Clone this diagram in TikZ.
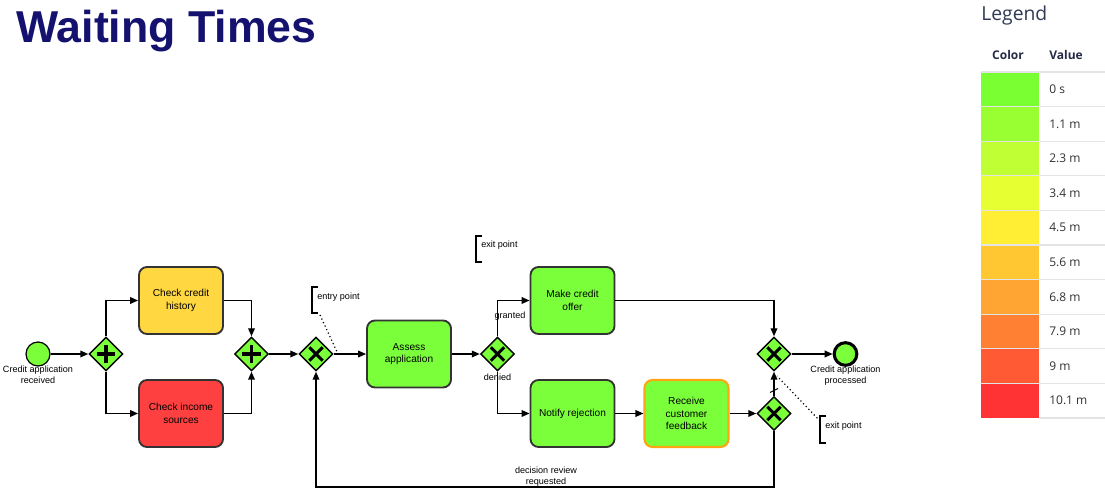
\documentclass[tikz,border=0pt]{standalone}
\usepackage{fontspec}
\setmainfont{Liberation Sans}
\newfontfamily\legendfont{Open Sans}
\usetikzlibrary{shapes.geometric,arrows.meta,calc}
\definecolor{tgreen}{RGB}{122,255,58}
\definecolor{tyellow}{RGB}{255,215,64}
\definecolor{tred}{RGB}{255,64,64}
\definecolor{torange}{RGB}{255,165,20}
\definecolor{titlenavy}{RGB}{20,18,110}
\definecolor{leggray}{RGB}{48,58,84}
\definecolor{legdark}{RGB}{37,42,71}
\definecolor{legtext}{RGB}{50,50,50}
\definecolor{legline}{RGB}{228,228,228}
\definecolor{c0}{RGB}{122,255,51}
\definecolor{c1}{RGB}{153,255,51}
\definecolor{c2}{RGB}{192,255,51}
\definecolor{c3}{RGB}{230,255,51}
\definecolor{c4}{RGB}{255,238,51}
\definecolor{c5}{RGB}{255,200,51}
\definecolor{c6}{RGB}{255,165,51}
\definecolor{c7}{RGB}{255,128,51}
\definecolor{c8}{RGB}{255,90,51}
\definecolor{c9}{RGB}{255,51,51}
\tikzset{
  task/.style={rectangle, rounded corners=6pt, draw=black!80, line width=1.4pt,
    minimum width=63pt, minimum height=50.25pt, inner sep=0pt, align=center,
    font=\fontsize{7.6}{9.5}\selectfont},
  gateway/.style={diamond, aspect=1, draw=black, fill=tgreen, line width=1.1pt,
    minimum width=25.5pt, minimum height=25.5pt, inner sep=0pt},
  pargw/.style={gateway, path picture={
    \draw[line width=2.8pt] ([xshift=-7pt]path picture bounding box.center) -- ([xshift=7pt]path picture bounding box.center);
    \draw[line width=2.8pt] ([yshift=-7pt]path picture bounding box.center) -- ([yshift=7pt]path picture bounding box.center);}},
  xorgw/.style={gateway, path picture={
    \draw[line width=2.3pt] ([shift={(-5pt,-5pt)}]path picture bounding box.center) -- ([shift={(5pt,5pt)}]path picture bounding box.center);
    \draw[line width=2.3pt] ([shift={(-5pt,5pt)}]path picture bounding box.center) -- ([shift={(5pt,-5pt)}]path picture bounding box.center);}},
  startev/.style={circle, draw=black, fill=tgreen, line width=0.9pt, minimum size=18pt, inner sep=0pt},
  endev/.style={circle, draw=black, fill=tgreen, line width=2.3pt, minimum size=17pt, inner sep=0pt},
  lbl/.style={inner sep=0pt, align=center, font=\fontsize{6.8}{8.25}\selectfont},
  flow/.style={line width=1.1pt, -{Triangle[length=6pt,width=5pt]}},
  bracketline/.style={line width=1.1pt},
  assoc/.style={line width=0.9pt, dotted},
  legcell/.style={inner sep=0pt, minimum width=43.5pt, minimum height=25.95pt, anchor=north west},
  legval/.style={inner sep=0pt, anchor=west, text=legtext, font=\legendfont\fontsize{9}{11}\selectfont},
}
\begin{document}
\begin{tikzpicture}[x=0.75pt,y=-0.75pt]
\useasboundingbox[fill=white] (0,0) rectangle (1105,498);

% title
\node[anchor=base west, inner sep=0pt, text=titlenavy, font=\fontsize{33.5}{36}\selectfont\bfseries] (title) at (16,43) {Waiting Times};

% legend
\node[anchor=base west, inner sep=0pt, text=leggray, font=\legendfont\fontsize{14.5}{17}\selectfont] (legend) at (981,21) {Legend};
\node[anchor=base, inner sep=0pt, text=legdark, font=\legendfont\bfseries\fontsize{9}{11}\selectfont] (hcolor) at (1008,60) {Color};
\node[anchor=base west, inner sep=0pt, text=legdark, font=\legendfont\bfseries\fontsize{9}{11}\selectfont] (hvalue) at (1049,60) {Value};
\foreach \i/\c/\v in {0/c0/0 s,1/c1/1.1 m,2/c2/2.3 m,3/c3/3.4 m,4/c4/4.5 m,5/c5/5.6 m,6/c6/6.8 m,7/c7/7.9 m,8/c8/9 m,9/c9/10.1 m}{
  \pgfmathsetmacro\yy{72+34.6*\i}
  \node[legcell, fill=\c] (cell\i) at (981,\yy) {};
  \node[legval] (val\i) at (1049,\yy+17.3) {\v};
  \draw[legline, line width=0.8pt] (981,\yy) -- (1105,\yy);
}
\draw[legline, line width=0.8pt] (1039,418) -- (1105,418);

% events and gateways
\node[startev] (start) at (38,354) {};
\node[lbl, anchor=north] (startlbl) at (38,365.5) {Credit application\\received};
\node[pargw] (gw1) at (106,354) {};
\node[task, fill=tyellow] (t1) at (181,300.5) {Check credit\\history};
\node[task, fill=tred] (t2) at (181,413.5) {Check income\\sources};
\node[pargw] (gw2) at (251.5,354) {};
\node[xorgw] (x1) at (316,354) {};
\node[task, fill=tgreen] (assess) at (409,354) {Assess\\application};
\node[xorgw] (x2) at (497.5,354) {};
\node[task, fill=tgreen] (offer) at (572.5,300.5) {Make credit\\offer};
\node[task, fill=tgreen] (notify) at (572.5,413.5) {Notify rejection};
\node[task, fill=tgreen, draw=torange, line width=1.6pt] (receive) at (686.5,413.5) {Receive\\customer\\feedback};
\node[xorgw] (x3) at (774,354) {};
\node[xorgw] (x4) at (774,413.5) {};
\node[endev] (end) at (845.5,354) {};
\node[lbl, anchor=north] (endlbl) at (845.5,365.5) {Credit application\\processed};

% sequence flows
\draw[flow] (start) -- (gw1);
\draw[flow] (gw1.north) |- (t1);
\draw[flow] (gw1.south) |- (t2);
\draw[flow] (t1) -| (gw2.north);
\draw[flow] (t2) -| (gw2.south);
\draw[flow] (gw2) -- (x1);
\draw[flow] (x1) -- (assess);
\draw[flow] (assess) -- (x2);
\draw[flow] (x2.north) |- (offer);
\draw[flow] (x2.south) |- (notify);
\node[lbl] (lgranted) at (510,316) {granted};
\node[lbl] (ldenied) at (497.5,377) {denied};
\draw[flow] (offer) -| (x3.north);
\draw[flow] (notify) -- (receive);
\draw[flow] (receive) -- (x4);
\draw[flow] (x4.north) -- (x3.south);
\coordinate (defmark) at ($(x4.north)!0.22!(x3.south)$);
\draw[line width=0.8pt] ($(defmark)+(-4,2)$) -- ($(defmark)+(4,-2)$);
\coordinate (bottomy) at (0,487);
\draw[flow] (x4.south) -- (x4.south |- bottomy) -| (x1.south);
\node[lbl] (lreview) at (546,477) {decision review\\requested};
\draw[flow] (x3) -- (end);

% annotations
\node[lbl, anchor=west] (entry) at (317,297) {entry point};
\draw[bracketline] (318,287) -- (312,287) -- (312,313) -- (318,313);
\coordinate (entryhit) at (338,354);
\draw[assoc] (320,315) -- (entryhit);

\node[lbl, anchor=west] (exit1) at (481,245) {exit point};
\draw[bracketline] (482,236) -- (476,236) -- (476,262) -- (482,262);

\node[lbl, anchor=west] (exit2) at (825,426) {exit point};
\draw[bracketline] (826,416) -- (820,416) -- (820,443) -- (826,443);
\coordinate (exithit) at (777,376);
\draw[assoc] (820,421) -- (exithit);
\end{tikzpicture}
\end{document}
